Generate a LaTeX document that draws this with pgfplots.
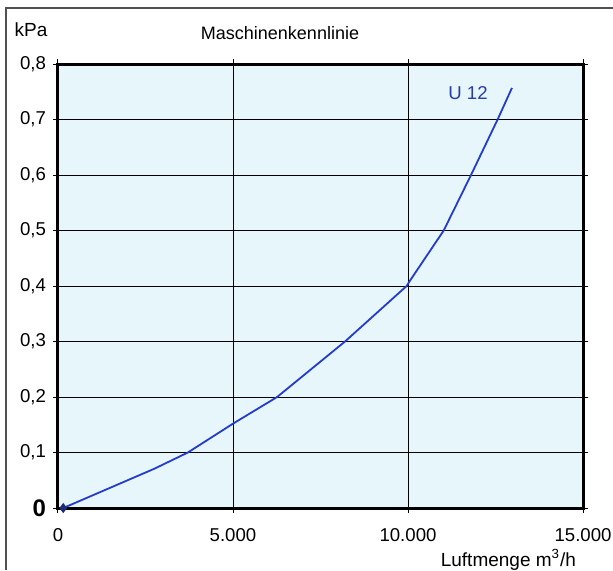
\documentclass[border=0pt]{standalone}
\usepackage{fontspec}
\setmainfont{Liberation Sans}
\usepackage{pgfplots}
\pgfplotsset{compat=1.18}
\definecolor{bgblue}{RGB}{230,246,250}
\definecolor{curveblue}{RGB}{35,60,205}
\definecolor{labblue}{RGB}{40,60,170}
\definecolor{framegray}{RGB}{80,80,80}
\begin{document}
\begin{tikzpicture}
\useasboundingbox (-29pt,-31pt) rectangle (277.5pt,254pt);
\fill[white] (-29pt,-31pt) rectangle (277.5pt,254pt);
\draw[framegray, line width=0.8pt] (-26pt,-31pt) -- (-26pt,250pt) -- (277.5pt,250pt);
\begin{axis}[
  scale only axis, width=262.5pt, height=222pt,
  at={(0,0)}, anchor=south west,
  xmin=0, xmax=15000, ymin=0, ymax=0.8,
  scaled x ticks=false, scaled y ticks=false,
  xtick={0,5000,10000,15000},
  xticklabels={0,5.000,10.000,15.000},
  ytick={0,0.1,0.2,0.3,0.4,0.5,0.6,0.7,0.8},
  yticklabels={{\textbf{\large 0}},{0,1},{0,2},{0,3},{0,4},{0,5},{0,6},{0,7},{0,8}},
  grid=major,
  major grid style={black, line width=0.5pt},
  axis line style={black, line width=1.5pt},
  tick style={black, line width=0.5pt},
  tick align=outside, major tick length=2.5pt,
  axis background/.style={fill=bgblue},
  tick label style={font=\fontsize{9.3}{10}\selectfont},
  xticklabel style={font=\fontsize{9.3}{10}\selectfont, yshift=-4pt},
  /pgf/number format/assume math mode=true,
  clip=false,
]
\addplot[curveblue, line width=0.9pt, line join=round] coordinates {
  (150,0) (2760,0.071) (3710,0.1) (5000,0.152) (6260,0.2) (8200,0.3)
  (9960,0.4) (10060,0.41) (11020,0.5) (11800,0.6) (12560,0.7) (12970,0.757)
};
\addplot[only marks, mark=diamond*, mark size=2.2pt, color=labblue!70!black] coordinates {(150,0)};
\node[labblue, font=\fontsize{9.3}{10}\selectfont] at (axis cs:11715,0.748) {U 12};
\end{axis}
\node[font=\fontsize{9.5}{10}\selectfont] at (-13.5pt,239pt) {kPa};
\node[font=\fontsize{9}{10}\selectfont] at (111pt,237.5pt) {Maschinenkennlinie};
\node[font=\fontsize{9.5}{10}\selectfont, anchor=east] at (262.5pt,-26pt) {Luftmenge m\textsuperscript{3}/h};
\end{tikzpicture}
\end{document}
